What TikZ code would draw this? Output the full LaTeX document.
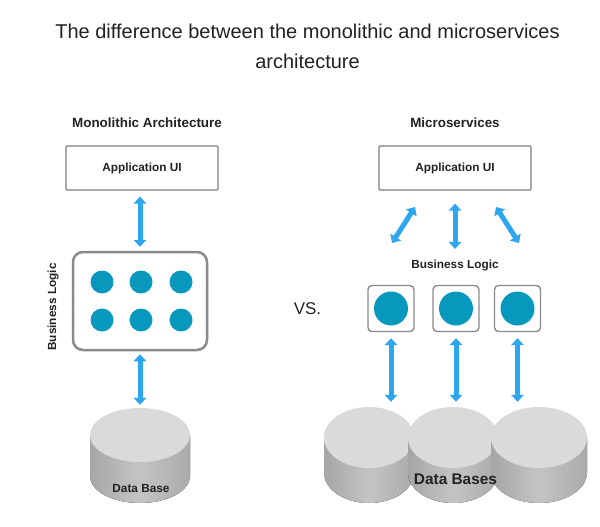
\documentclass[tikz,border=0pt]{standalone}
\usepackage{fontspec}
\setmainfont{Liberation Sans}
\usepackage{tikz}
\usetikzlibrary{arrows.meta,shapes}
\definecolor{arrowblue}{RGB}{45,166,240}
\definecolor{dotteal}{RGB}{8,152,190}
\definecolor{boxgray}{RGB}{125,125,125}
\definecolor{topgray}{RGB}{218,218,218}
\definecolor{sidedark}{RGB}{166,166,166}
\definecolor{sidelight}{RGB}{196,196,196}
\definecolor{inkgray}{RGB}{34,34,34}

% side of a data base disk: cx, cy, rx, ry, height
\newcommand{\dbside}[5]{%
  \fill[left color=sidedark,right color=sidedark!95,middle color=sidelight]
    (#1-#3,#2) -- ++(0,#5) arc (180:0:#3 and #4) -- ++(0,-#5) -- cycle;}

\begin{document}
\begin{tikzpicture}[x=1pt,y=-1pt]
		\tikzstyle{heading}=[text=inkgray,anchor=base,font=\fontsize{13.4}{16}\selectfont\bfseries]
		\tikzstyle{tag}=[text=inkgray,font=\fontsize{11.8}{14}\selectfont\bfseries]
		\tikzstyle{uibox}=[draw=boxgray,line width=1.3pt,rounded corners=1pt,fill=white,minimum width=152,minimum height=44,text=inkgray,font=\fontsize{11.8}{14}\selectfont\bfseries]
		\tikzstyle{logicbox}=[draw=boxgray!90,line width=2.5pt,rounded corners=10pt,fill=white]
		\tikzstyle{smallbox}=[draw=boxgray!90,line width=1.4pt,rounded corners=4pt,fill=white,minimum size=46]
		\tikzstyle{ball}=[circle,fill=dotteal,inner sep=0pt]
		\tikzstyle{dbtop}=[ellipse,fill=topgray,inner sep=0pt]
		\tikzstyle{link}=[draw=arrowblue,line width=5pt,{Triangle[width=12.5pt,length=7pt]}-{Triangle[width=12.5pt,length=7pt]}]
		
		\useasboundingbox[fill=white] (0,0) rectangle (600,527);
		
		\node[anchor=base,align=center,text=inkgray,font=\fontsize{20}{29.5}\selectfont] (title) at (307.5,68.1) {The difference between the monolithic and microservices\\architecture};
		
		% monolithic side
		\node[heading] (monoT) at (147,127) {Monolithic Architecture};
		\node[uibox] (uiL) at (142,168) {Application UI};
		\node[logicbox,minimum width=134,minimum height=98] (blL) at (140,301) {};
		\node[ball,minimum size=23] (m1) at (102,282) {};
		\node[ball,minimum size=23] (m2) at (141,282) {};
		\node[ball,minimum size=23] (m3) at (181,282) {};
		\node[ball,minimum size=23] (m4) at (102,320) {};
		\node[ball,minimum size=23] (m5) at (141,320) {};
		\node[ball,minimum size=23] (m6) at (181,320) {};
		\node[tag,rotate=90] (blLT) at (53,307) {Business Logic};
		
		\dbside{140}{435}{50}{27}{41}
		\node[dbtop,minimum width=100,minimum height=54] (dbL) at (140,435) {};
		\node[tag,anchor=base] (dbLT) at (141,492) {Data Base};
		
		\draw[link,shorten <=6pt,shorten >=4pt] (blL |- uiL.south) -- (blL.north);
		\draw[link,shorten <=3pt,shorten >=3pt] (blL.south) -- (dbL.north);
		
		\node[anchor=base,text=inkgray,font=\fontsize{17}{20}\selectfont] (vs) at (307.5,314) {VS.};
		
		% microservices side
		\node[heading] (microT) at (455,127) {Microservices};
		\node[uibox] (uiR) at (455,168) {Application UI};
		\node[tag,anchor=base] (blR) at (455,268) {Business Logic};
		
		\node[smallbox] (ms1) at (391,308.5) {};
		\node[smallbox] (ms2) at (456,308.5) {};
		\node[smallbox] (ms3) at (517.5,308.5) {};
		\node[ball,minimum size=34] (s1) at (ms1) {};
		\node[ball,minimum size=34] (s2) at (ms2) {};
		\node[ball,minimum size=34] (s3) at (ms3) {};
		
		\coordinate (l1) at (415,207);
		\coordinate (l2) at (392,243);
		\coordinate (r1) at (496,207);
		\coordinate (r2) at (519,243);
		\draw[link] (l1) -- (l2);
		\draw[link,shorten <=13pt,shorten >=7pt] (uiR.south) -- (blR.north);
		\draw[link] (r1) -- (r2);
		
		\dbside{369}{437.5}{45}{30.5}{35}
		\node[dbtop,minimum width=90,minimum height=61] (dbA) at (369,437.5) {};
		\dbside{453}{437.5}{45}{30.5}{35}
		\node[dbtop,minimum width=90,minimum height=61] (dbB) at (453,437.5) {};
		\dbside{539}{437.5}{48}{30.5}{35}
		\node[dbtop,minimum width=96,minimum height=61] (dbC) at (539,437.5) {};
		\node[anchor=base,text=inkgray,font=\fontsize{15.4}{18}\selectfont\bfseries] (dbRT) at (455.5,484) {Data Bases};
		
		\draw[link,shorten <=6pt,shorten >=5pt] (ms1.south) -- (ms1.south |- dbA.north);
		\draw[link,shorten <=6pt,shorten >=5pt] (ms2.south) -- (ms2.south |- dbB.north);
		\draw[link,shorten <=6pt,shorten >=5pt] (ms3.south) -- (ms3.south |- dbC.north);
		
\end{tikzpicture}
\end{document}
